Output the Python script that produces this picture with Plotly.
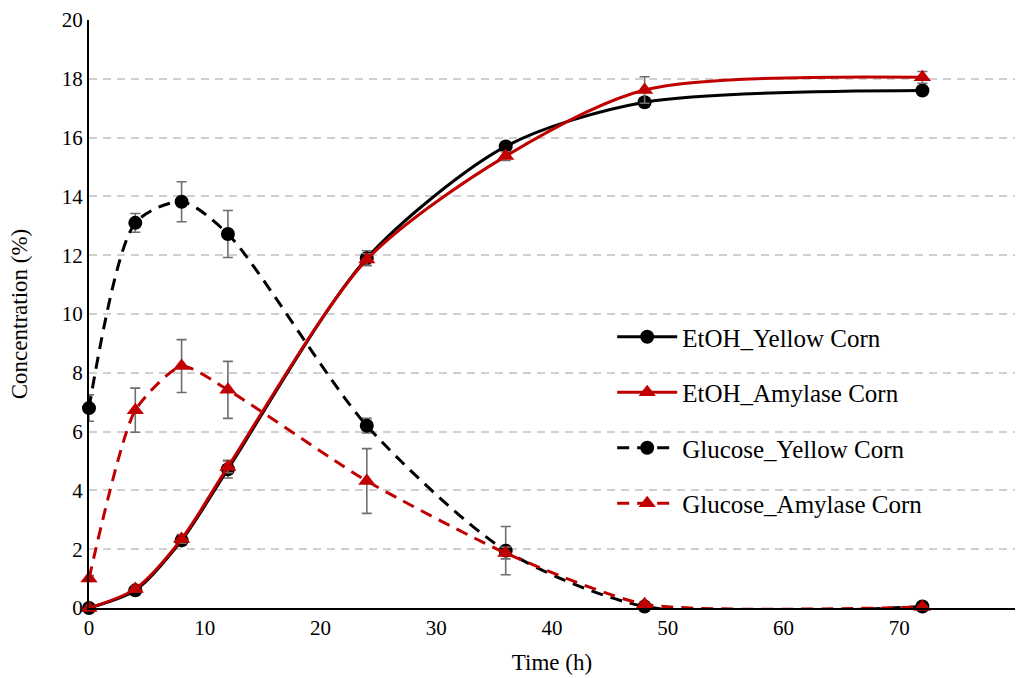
import plotly.graph_objects as go

# Sampling times (h)
time_h = [0, 4, 8, 12, 24, 36, 48, 72]

# Concentrations (%)
etoh_yellow = [0.0, 0.6, 2.3, 4.72, 11.9, 15.7, 17.2, 17.6]
etoh_yellow_err = [0.05, 0.1, 0.15, 0.3, 0.25, 0.15, 0.15, 0.1]
etoh_amylase = [0.0, 0.65, 2.35, 4.8, 11.85, 15.37, 17.62, 18.05]
etoh_amylase_err = [0.05, 0.1, 0.15, 0.2, 0.2, 0.15, 0.45, 0.2]
glucose_yellow = [6.8, 13.1, 13.82, 12.72, 6.2, 1.95, 0.05, 0.05]
glucose_yellow_err = [0.45, 0.32, 0.68, 0.8, 0.25, 0.82, 0.05, 0.05]
glucose_amylase = [1.0, 6.73, 8.23, 7.42, 4.32, 1.87, 0.13, 0.03]
glucose_amylase_err = [0.1, 0.75, 0.9, 0.97, 1.1, 0.2, 0.05, 0.05]

series_names = ["EtOH_Yellow Corn", "EtOH_Amylase Corn",
                "Glucose_Yellow Corn", "Glucose_Amylase Corn"]

BLACK = "#000000"
RED = "#C00000"
ERR = "#6E6E6E"
FONT = "'Liberation Serif', 'Times New Roman', serif"

specs = [
    (etoh_yellow, etoh_yellow_err, BLACK, "solid", "circle", 0.8),
    (etoh_amylase, etoh_amylase_err, RED, "solid", "triangle-up", 0.8),
    (glucose_yellow, glucose_yellow_err, BLACK, "12px,8px", "circle", 0.75),
    (glucose_amylase, glucose_amylase_err, RED, "12px,8px", "triangle-up", 0.6),
]

fig = go.Figure()
for name, (vals, err, color, dash, symbol, smooth) in zip(series_names, specs):
    fig.add_trace(go.Scatter(
        x=time_h, y=vals, name=name, legendgroup=name,
        mode="lines+markers",
        line=dict(color=color, width=3, dash=dash, shape="spline", smoothing=smooth),
        marker=dict(color=color, size=14 if symbol == "circle" else 15, symbol=symbol),
        error_y=dict(type="data", array=err, color=ERR, thickness=1.6, width=5),
        cliponaxis=False,
    ))

fig.update_layout(
    width=1024, height=678,
    margin=dict(l=89, r=9, t=20, b=70),
    paper_bgcolor="white", plot_bgcolor="white",
    font=dict(family=FONT, size=22, color="#000000"),
    showlegend=True,
    legend=dict(
        x=0.565, y=0.50, xanchor="left", yanchor="top",
        bgcolor="rgba(255,255,255,0)",
        font=dict(family=FONT, size=25, color="#000000"),
        tracegroupgap=20, itemwidth=60,
    ),
)

fig.update_xaxes(
    range=[0, 80], dtick=10, tick0=0, automargin=False,
    showgrid=False, zeroline=False,
    showline=True, linecolor="#000000", linewidth=2,
    ticks="", tickfont=dict(family=FONT, size=21),
    title=dict(text="Time (h)", font=dict(family=FONT, size=23), standoff=15),
)
fig.update_yaxes(
    range=[0, 20], dtick=2, tick0=0, automargin=False,
    showgrid=True, gridcolor="#D0D0D0", gridwidth=1.5, griddash="8px,6px",
    zeroline=False,
    showline=True, linecolor="#000000", linewidth=2,
    ticks="", tickfont=dict(family=FONT, size=21),
    title=dict(text="Concentration (%)", font=dict(family=FONT, size=23), standoff=28),
)

fig.write_html("out.html")
